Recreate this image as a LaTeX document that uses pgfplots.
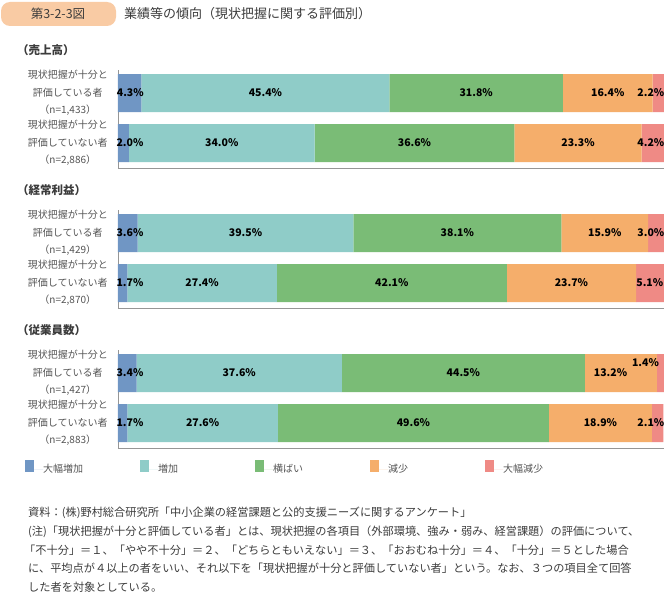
\documentclass[border=0pt]{standalone}
\usepackage{fontspec}
\setmainfont{Noto Sans CJK JP}
\usepackage{pgfplots}
\pgfplotsset{compat=1.18}
\definecolor{cA}{RGB}{112,150,196}
\definecolor{cB}{RGB}{143,204,200}
\definecolor{cC}{RGB}{122,188,118}
\definecolor{cD}{RGB}{245,174,107}
\definecolor{cE}{RGB}{239,138,133}
\definecolor{axisgray}{RGB}{150,150,150}
\definecolor{lblgray}{RGB}{85,85,85}
\definecolor{notegray}{RGB}{60,60,60}
\definecolor{titlebox}{RGB}{249,203,164}

\pgfplotsset{
 grp/.style={
  scale only axis, width=546pt, height=98pt,
  xbar stacked, bar width=38pt,
  xmin=0, xmax=100, ymin=-0.5, ymax=1.46,
  axis x line*=bottom, axis y line*=left,
  axis line style={draw=axisgray, line width=0.9pt},
  xtick=\empty, ytick={0,1}, major tick length=0pt,
  yticklabel style={align=center, font=\fontsize{10}{17.5}\selectfont, text=lblgray, inner sep=0pt, xshift=-10pt},
  clip=false,
 },
 lbl/.style={
  scale only axis, width=546pt, height=98pt,
  xmin=0, xmax=100, ymin=-0.5, ymax=1.46,
  hide axis, clip=false,
  point meta=explicit symbolic,
  every node near coord/.style={anchor=center, inner sep=0pt, font=\fontsize{10.5}{12}\selectfont\bfseries, text=black},
 },
}

\begin{document}
\begin{tikzpicture}
\fill[white] (0,0) rectangle (664pt,-594pt);
% title
\fill[titlebox, rounded corners=9pt] (1pt,-2pt) rectangle (116pt,-26pt);
\node[font=\fontsize{12.5}{14}\selectfont, text=notegray] at (58pt,-14pt) {第3-2-3図};
\node[anchor=west, inner sep=0pt, font=\fontsize{13}{15}\selectfont, text=notegray] at (124pt,-14pt) {業績等の傾向（現状把握に関する評価別）};
% headings
\node[anchor=west, inner sep=0pt, font=\fontsize{11.5}{13}\selectfont\bfseries, text=notegray] at (17pt,-50pt) {（売上高）};
\node[anchor=west, inner sep=0pt, font=\fontsize{11.5}{13}\selectfont\bfseries, text=notegray] at (17pt,-190pt) {（経常利益）};
\node[anchor=west, inner sep=0pt, font=\fontsize{11.5}{13}\selectfont\bfseries, text=notegray] at (17pt,-330pt) {（従業員数）};

% ---------- 売上高
\begin{axis}[grp, at={(118pt,-168pt)}, anchor=south west,
  yticklabels={{現状把握が十分と\\評価していない者\\（n=2,886）},{現状把握が十分と\\評価している者\\（n=1,433）}},
  legend columns=5,
  legend style={at={(0,0)}, anchor=west, xshift=-93pt, yshift=-299pt, draw=none, fill=none, inner sep=0pt, column sep=0pt, font=\fontsize{10}{12}\selectfont, text=lblgray, nodes={inner sep=0pt}},
  legend image code/.code={\path (0pt,0pt) -- (18pt,0pt); \fill[#1] (0pt,-2.5pt) rectangle (9pt,9.5pt);},
]
\addplot[fill=cA, draw=none] coordinates {(2.0,0) (4.3,1)};
\addplot[fill=cB, draw=none] coordinates {(34.0,0) (45.4,1)};
\addplot[fill=cC, draw=none] coordinates {(36.6,0) (31.8,1)};
\addplot[fill=cD, draw=none] coordinates {(23.3,0) (16.4,1)};
\addplot[fill=cE, draw=none] coordinates {(4.2,0) (2.2,1)};
\legend{\makebox[97pt][l]{大幅増加},\makebox[97pt][l]{増加},\makebox[97pt][l]{横ばい},\makebox[97pt][l]{減少},\makebox[97pt][l]{大幅減少}}
\end{axis}
\begin{axis}[lbl, at={(118pt,-168pt)}, anchor=south west]
\addplot[draw=none, mark=none, nodes near coords] coordinates {
 (2.25,1) [4.3\%] (27.0,1) [45.4\%] (65.6,1) [31.8\%] (89.7,1) [16.4\%] (97.6,1) [2.2\%]
 (2.2,0) [2.0\%] (19.0,0) [34.0\%] (54.3,0) [36.6\%] (84.25,0) [23.3\%] (97.6,0) [4.2\%]};
\end{axis}

% ---------- 経常利益
\begin{axis}[grp, at={(118pt,-308pt)}, anchor=south west,
  yticklabels={{現状把握が十分と\\評価していない者\\（n=2,870）},{現状把握が十分と\\評価している者\\（n=1,429）}},
]
\addplot[fill=cA, draw=none] coordinates {(1.7,0) (3.6,1)};
\addplot[fill=cB, draw=none] coordinates {(27.4,0) (39.5,1)};
\addplot[fill=cC, draw=none] coordinates {(42.1,0) (38.1,1)};
\addplot[fill=cD, draw=none] coordinates {(23.7,0) (15.9,1)};
\addplot[fill=cE, draw=none] coordinates {(5.1,0) (3.0,1)};
\end{axis}
\begin{axis}[lbl, at={(118pt,-308pt)}, anchor=south west]
\addplot[draw=none, mark=none, nodes near coords] coordinates {
 (2.2,1) [3.6\%] (23.35,1) [39.5\%] (62.15,1) [38.1\%] (89.15,1) [15.9\%] (97.6,1) [3.0\%]
 (2.2,0) [1.7\%] (15.4,0) [27.4\%] (50.15,0) [42.1\%] (83.05,0) [23.7\%] (97.4,0) [5.1\%]};
\end{axis}

% ---------- 従業員数
\begin{axis}[grp, at={(118pt,-448pt)}, anchor=south west,
  yticklabels={{現状把握が十分と\\評価していない者\\（n=2,883）},{現状把握が十分と\\評価している者\\（n=1,427）}},
]
\addplot[fill=cA, draw=none] coordinates {(1.7,0) (3.4,1)};
\addplot[fill=cB, draw=none] coordinates {(27.6,0) (37.6,1)};
\addplot[fill=cC, draw=none] coordinates {(49.6,0) (44.5,1)};
\addplot[fill=cD, draw=none] coordinates {(18.9,0) (13.2,1)};
\addplot[fill=cE, draw=none] coordinates {(2.1,0) (1.4,1)};
\end{axis}
\begin{axis}[lbl, at={(118pt,-448pt)}, anchor=south west]
\addplot[draw=none, mark=none, nodes near coords] coordinates {
 (2.2,1) [3.4\%] (22.2,1) [37.6\%] (63.25,1) [44.5\%] (90.2,1) [13.2\%] (96.6,1.2) [1.4\%]
 (2.2,0) [1.7\%] (15.5,0) [27.6\%] (54.1,0) [49.6\%] (88.35,0) [18.9\%] (97.6,0) [2.1\%]};
\end{axis}

% notes
\begin{scope}[every node/.style={anchor=west, inner sep=0pt, font=\fontsize{11.2}{13}\selectfont, text=notegray}]
\node at (28pt,-513pt) {資料：(株)野村総合研究所「中小企業の経営課題と公的支援ニーズに関するアンケート」};
\node at (28pt,-531.5pt) {(注)「現状把握が十分と評価している者」とは、現状把握の各項目（外部環境、強み・弱み、経営課題）の評価について、};
\node at (24pt,-550pt) {「不十分」＝１、「やや不十分」＝２、「どちらともいえない」＝３、「おおむね十分」＝４、「十分」＝５とした場合};
\node at (28pt,-568.5pt) {に、平均点が４以上の者をいい、それ以下を「現状把握が十分と評価していない者」という。なお、３つの項目全て回答};
\node at (28pt,-587pt) {した者を対象としている。};
\end{scope}
\pgfresetboundingbox
\path[use as bounding box] (0,0) rectangle (664pt,-594pt);
\end{tikzpicture}
\end{document}
